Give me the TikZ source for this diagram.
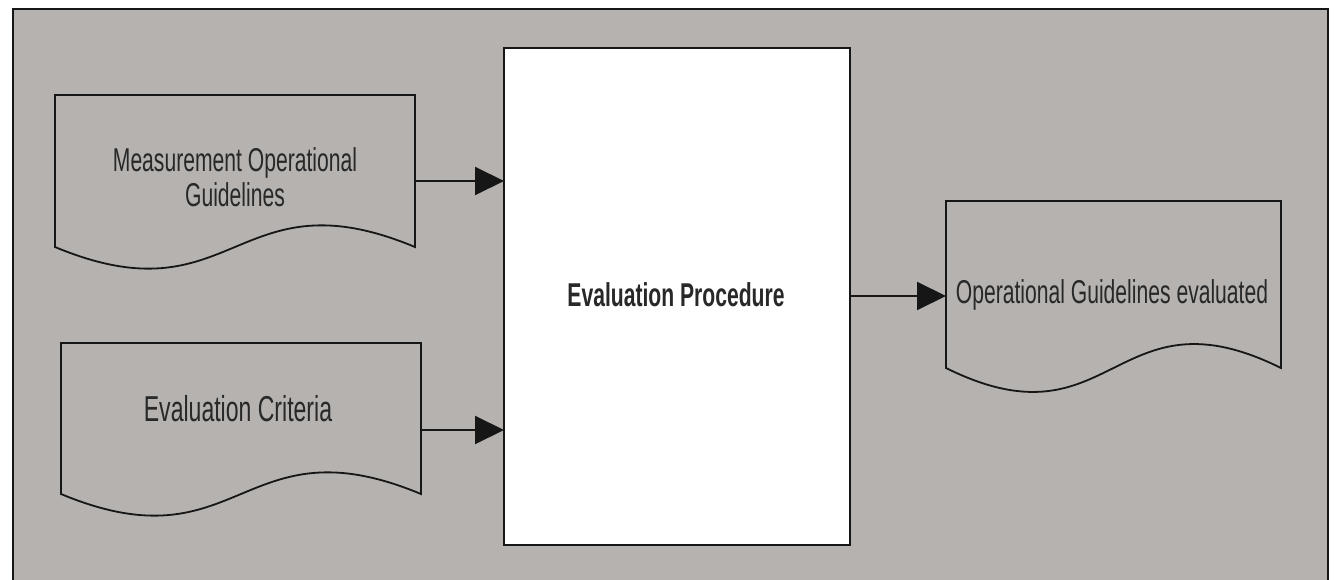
\documentclass[tikz,border=0pt]{standalone}
\usepackage{fontspec}
\setmainfont{Liberation Sans}[FakeStretch=0.64]
\usetikzlibrary{arrows.meta,calc}
\definecolor{bg}{RGB}{181,178,176}
\definecolor{ink}{RGB}{22,22,22}
\definecolor{txt}{RGB}{40,40,40}
\newcommand\docoutline[4]{%
  \draw[docline] (#1.north west) -- (#1.north east) -- ([yshift=#2pt]#1.south east)
    .. controls ([yshift=#3pt]#1.south) and ([yshift=#4pt]#1.south) ..
    ([yshift=#2pt]#1.south west) -- cycle;}
\begin{document}
\begin{tikzpicture}[x=1pt,y=-1pt,
  frame/.style={draw=ink,line width=2pt,fill=bg},
  docnode/.style={rectangle,draw=none,inner sep=0pt,outer sep=0pt},
  docline/.style={draw=ink,line width=1.8pt,fill=bg,line join=miter},
  procbox/.style={rectangle,draw=ink,line width=1.8pt,fill=white,inner sep=0pt,outer sep=0pt},
  arr/.style={draw=ink,line width=2pt,-{Triangle[length=29pt,width=28pt]}},
  lbl/.style={inner sep=0pt,text=txt,anchor=base},
]
\useasboundingbox (0,0) rectangle (1336,580);
\clip (0,0) rectangle (1336,580);
\fill[white] (0,0) rectangle (1336,580);
\path[frame] (13,9) rectangle (1328,620);

% nodes
\node[docnode,minimum width=360pt,minimum height=172pt] (d1) at (235,181) {};
\node[docnode,minimum width=360pt,minimum height=174pt] (d2) at (241,430) {};
\node[docnode,minimum width=335pt,minimum height=190pt] (d3) at (1113.5,296) {};

\docoutline{d1}{20}{95}{-55}
\docoutline{d2}{23}{98}{-52}
\docoutline{d3}{23}{106}{-60}

\node[procbox,minimum width=346pt,minimum height=497pt] (proc) at (677,296.5) {};

% labels
\node[lbl,font=\fontsize{33}{35}\selectfont] (t1a) at (235,172) {Measurement Operational};
\node[lbl,font=\fontsize{33}{35}\selectfont] (t1b) at (235,207) {Guidelines};
\node[lbl,font=\fontsize{36}{38}\selectfont] (t2) at (238,421) {Evaluation Criteria};
\node[lbl,font=\fontsize{33}{35}\selectfont] (t3) at (1112,303) {Operational Guidelines evaluated};
\node[lbl,font=\fontsize{33}{35}\selectfont\bfseries] (tp) at (676,306) {Evaluation Procedure};

% connectors
\draw[arr] (d1.east) -- (d1.east -| proc.west);
\draw[arr] (d2.east) -- (d2.east -| proc.west);
\draw[arr] (proc.east |- d3.west) -- (d3.west);
\end{tikzpicture}
\end{document}
